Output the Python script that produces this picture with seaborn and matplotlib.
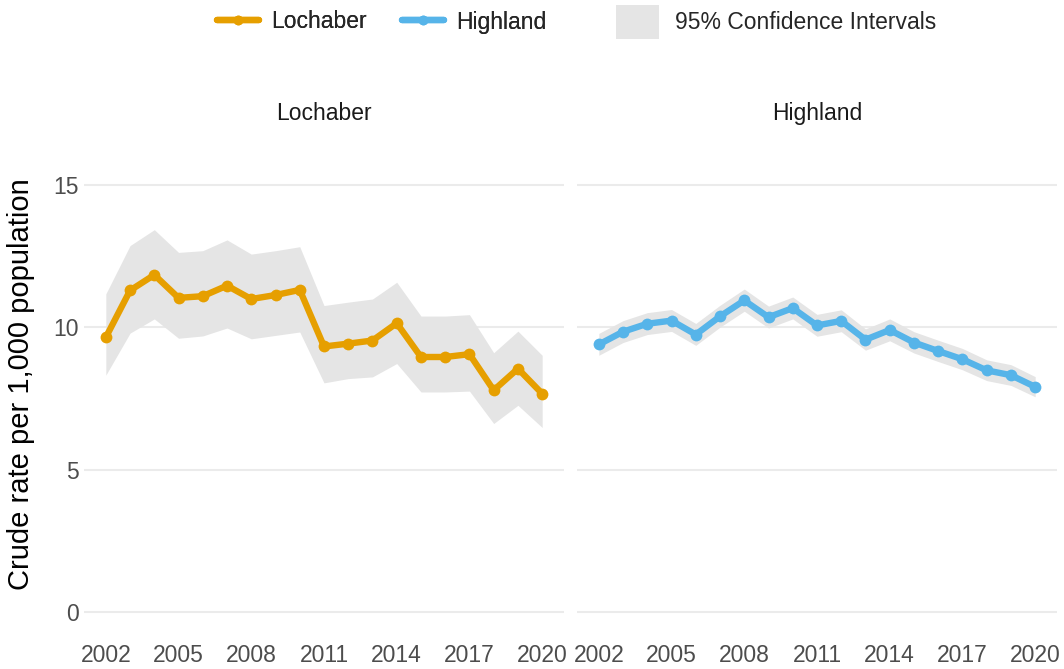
import matplotlib
matplotlib.use("Agg")
import matplotlib.pyplot as plt
from matplotlib.lines import Line2D
from matplotlib.patches import Patch
import seaborn as sns
import pandas as pd

years = list(range(2002, 2021))

lochaber_rate = [9.65, 11.30, 11.85, 11.04, 11.10, 11.47, 11.00, 11.14, 11.32, 9.33,
                 9.43, 9.54, 10.15, 8.96, 8.96, 9.06, 7.79, 8.55, 7.67]
lochaber_lower = [8.32, 9.80, 10.30, 9.62, 9.70, 9.98, 9.60, 9.72, 9.84, 8.05,
                  8.20, 8.26, 8.73, 7.73, 7.73, 7.76, 6.62, 7.26, 6.48]
lochaber_upper = [11.18, 12.88, 13.44, 12.64, 12.70, 13.08, 12.58, 12.70, 12.84, 10.77,
                  10.89, 11.00, 11.59, 10.40, 10.40, 10.45, 9.11, 9.87, 9.02]

highland_rate = [9.40, 9.85, 10.13, 10.24, 9.75, 10.39, 10.95, 10.36, 10.68, 10.07,
                 10.23, 9.57, 9.91, 9.47, 9.17, 8.88, 8.49, 8.32, 7.91]
highland_lower = [9.02, 9.47, 9.75, 9.86, 9.37, 10.01, 10.57, 9.98, 10.30, 9.69,
                  9.85, 9.20, 9.53, 9.10, 8.80, 8.51, 8.13, 7.96, 7.56]
highland_upper = [9.79, 10.24, 10.52, 10.63, 10.14, 10.78, 11.35, 10.75, 11.07, 10.46,
                  10.62, 9.95, 10.30, 9.85, 9.55, 9.26, 8.86, 8.69, 8.27]

areas = ["Lochaber", "Highland"]
colours = {"Lochaber": "#E69F00", "Highland": "#56B4E9"}
x_ticks = [2002, 2005, 2008, 2011, 2014, 2017, 2020]
y_ticks = [0, 5, 10, 15]

frames = []
for area, rate, lo, hi in [("Lochaber", lochaber_rate, lochaber_lower, lochaber_upper),
                           ("Highland", highland_rate, highland_lower, highland_upper)]:
    frames.append(pd.DataFrame({"year": years, "rate": rate, "lower": lo,
                                "upper": hi, "area": area}))
df = pd.concat(frames, ignore_index=True)

sns.set_theme(style="whitegrid")
plt.rcParams["font.family"] = ["Liberation Sans", "DejaVu Sans"]

fig = plt.figure(figsize=(10.64, 6.69), dpi=100)
panel_lefts = [84 / 1064, 577 / 1064]
panel_w = 480 / 1064
panel_b = 36 / 669
panel_h = 469 / 669

axes = []
for i, area in enumerate(areas):
    ax = fig.add_axes([panel_lefts[i], panel_b, panel_w, panel_h])
    axes.append(ax)
    d = df[df["area"] == area]
    ax.fill_between(d["year"], d["lower"], d["upper"], color="#E5E5E5",
                    linewidth=0, zorder=1)
    sns.lineplot(data=d, x="year", y="rate", ax=ax, color=colours[area],
                 linewidth=4.6, marker="o", markersize=8.5, markeredgewidth=0,
                 zorder=3, legend=False)
    ax.set_xlim(2002 - 0.9, 2020 + 0.9)
    ax.set_ylim(-0.75, 15.75)
    ax.set_xticks(x_ticks)
    ax.set_yticks(y_ticks)
    ax.grid(axis="x", visible=False)
    ax.grid(axis="y", color="#EBEBEB", linewidth=1.5)
    ax.set_facecolor("white")
    for s in ax.spines.values():
        s.set_visible(False)
    ax.tick_params(axis="both", length=0, labelsize=16.5, labelcolor="#4D4D4D")
    ax.tick_params(axis="x", pad=8)
    ax.tick_params(axis="y", pad=4)
    ax.set_xlabel("")
    ax.set_ylabel("")
    ax.set_title(area, fontsize=16.5, color="#1A1A1A", pad=32)

axes[0].set_ylabel("Crude rate per 1,000 population", fontsize=21,
                   color="black")
axes[0].yaxis.set_label_coords(-0.102, 0.53)
axes[1].tick_params(axis="y", labelleft=False)

line_handles = [
    Line2D([0], [0], color=colours[a], linewidth=4.6, marker="o", markersize=7,
           markeredgewidth=0, label=a) for a in areas
]
leg1 = fig.legend(handles=line_handles, loc="center", ncol=2,
                  bbox_to_anchor=(382 / 1064, 1 - 22 / 669), frameon=False,
                  fontsize=16.5, handlelength=1.8, handletextpad=0.55,
                  columnspacing=1.55)
fig.add_artist(leg1)
ci_handle = [Patch(facecolor="#E5E5E5", edgecolor="none",
                   label="95% Confidence Intervals")]
fig.legend(handles=ci_handle, loc="center",
           bbox_to_anchor=(776 / 1064, 1 - 22 / 669), frameon=False,
           fontsize=16.5, handlelength=1.85, handleheight=1.85,
           handletextpad=0.7)

fig.savefig("out.png", dpi=100, facecolor="white")
